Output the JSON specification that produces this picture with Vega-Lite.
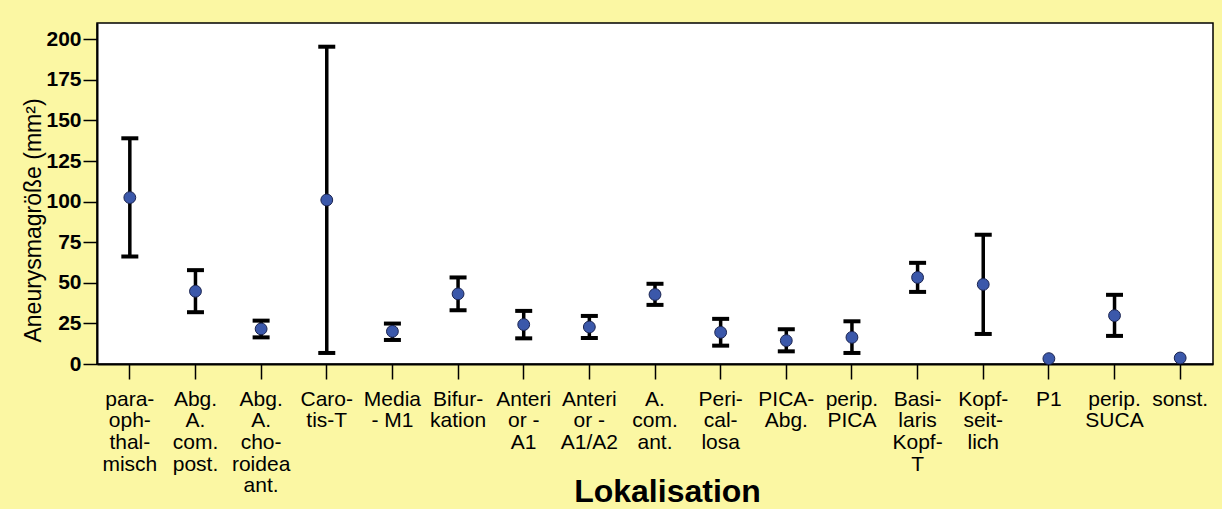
{
  "$schema": "https://vega.github.io/schema/vega-lite/v6.json",
  "autosize": {"type": "none"},
  "width": 1116,
  "height": 341,
  "padding": {"left": 97, "top": 23, "right": 9, "bottom": 145},
  "background": "#FBF7A3",
  "config": {
    "view": {"fill": "white", "stroke": "black", "strokeWidth": 1.5},
    "font": "Liberation Sans"
  },
  "data": {
    "values": [
      {"cat": "para-|oph-|thal-|misch", "mean": 102.5, "lo": 66.2, "hi": 139.0},
      {"cat": "Abg.|A.|com.|post.", "mean": 44.8, "lo": 31.9, "hi": 57.8},
      {"cat": "Abg.|A.|cho-|roidea|ant.", "mean": 21.6, "lo": 16.4, "hi": 26.7},
      {"cat": "Caro-|tis-T", "mean": 101.0, "lo": 6.8, "hi": 195.4},
      {"cat": "Media|- M1", "mean": 20.1, "lo": 14.8, "hi": 24.9},
      {"cat": "Bifur-|kation", "mean": 43.2, "lo": 33.1, "hi": 53.3},
      {"cat": "Anteri|or -|A1", "mean": 24.3, "lo": 15.8, "hi": 32.7},
      {"cat": "Anteri|or -|A1/A2", "mean": 22.8, "lo": 16.0, "hi": 29.6},
      {"cat": "A.|com.|ant.", "mean": 42.8, "lo": 36.4, "hi": 49.4},
      {"cat": "Peri-|cal-|losa", "mean": 19.5, "lo": 11.3, "hi": 27.8},
      {"cat": "PICA-|Abg.", "mean": 14.4, "lo": 7.8, "hi": 21.4},
      {"cat": "perip.|PICA", "mean": 16.4, "lo": 6.8, "hi": 26.3},
      {"cat": "Basi-|laris|Kopf-|T", "mean": 53.3, "lo": 44.4, "hi": 62.3},
      {"cat": "Kopf-|seit-|lich", "mean": 49.0, "lo": 18.5, "hi": 79.6},
      {"cat": "P1", "mean": 3.3, "lo": null, "hi": null},
      {"cat": "perip.|SUCA", "mean": 29.8, "lo": 17.3, "hi": 42.6},
      {"cat": "sonst.", "mean": 3.7, "lo": null, "hi": null}
    ]
  },
  "encoding": {
    "x": {
      "field": "cat",
      "type": "nominal",
      "sort": ["para-|oph-|thal-|misch", "Abg.|A.|com.|post.", "Abg.|A.|cho-|roidea|ant.", "Caro-|tis-T", "Media|- M1", "Bifur-|kation", "Anteri|or -|A1", "Anteri|or -|A1/A2", "A.|com.|ant.", "Peri-|cal-|losa", "PICA-|Abg.", "perip.|PICA", "Basi-|laris|Kopf-|T", "Kopf-|seit-|lich", "P1", "perip.|SUCA", "sonst."],
      "scale": {"paddingInner": 0, "paddingOuter": 0},
      "axis": {
        "title": "Lokalisation",
        "titleFont": "Liberation Sans",
        "titleFontSize": 32,
        "titleFontWeight": "bold",
        "titleColor": "black",
        "titleBaseline": "alphabetic",
        "titleY": 137,
        "titleX": 570,
        "labelExpr": "split(datum.label, '|')",
        "labelAngle": 0,
        "labelAlign": "center",
        "labelBaseline": "top",
        "labelFontSize": 21,
        "labelLineHeight": 21.7,
        "labelColor": "black",
        "labelPadding": 9,
        "labelLimit": 200,
        "bandPosition": 0.5,
        "tickSize": 15,
        "tickColor": "black",
        "tickWidth": 1.5,
        "domainColor": "black",
        "domainWidth": 2
      }
    }
  },
  "layer": [
    {
      "transform": [{"filter": "datum.lo != null"}],
      "mark": {"type": "rule", "color": "black", "strokeWidth": 3.5},
      "encoding": {
        "y": {"field": "lo", "type": "quantitative"},
        "y2": {"field": "hi"}
      }
    },
    {
      "transform": [{"filter": "datum.lo != null"}],
      "mark": {"type": "tick", "color": "black", "thickness": 4, "size": 17, "opacity": 1},
      "encoding": {"y": {"field": "hi", "type": "quantitative"}}
    },
    {
      "transform": [{"filter": "datum.lo != null"}],
      "mark": {"type": "tick", "color": "black", "thickness": 4, "size": 17, "opacity": 1},
      "encoding": {"y": {"field": "lo", "type": "quantitative"}}
    },
    {
      "mark": {"type": "point", "filled": true, "size": 140, "fill": "#3B58AA", "stroke": "#1B2450", "strokeWidth": 1, "opacity": 1},
      "encoding": {
        "y": {
          "field": "mean",
          "type": "quantitative",
          "scale": {"domain": [0, 210], "nice": false, "zero": true},
          "axis": {
            "title": "Aneurysmagröße (mm²)",
            "titleFont": "Liberation Sans",
            "titleFontSize": 23,
            "titleFontWeight": "normal",
            "titleColor": "black",
            "titleX": -64,
            "titleY": 197,
            "titleAngle": -90,
            "titleAlign": "center",
            "titleBaseline": "middle",
            "values": [0, 25, 50, 75, 100, 125, 150, 175, 200],
            "labelFontSize": 21,
            "labelFontWeight": "bold",
            "labelColor": "black",
            "labelPadding": 2,
            "tickSize": 14,
            "tickColor": "black",
            "tickWidth": 1.5,
            "domainColor": "black",
            "domainWidth": 2,
            "grid": false
          }
        }
      }
    }
  ]
}
